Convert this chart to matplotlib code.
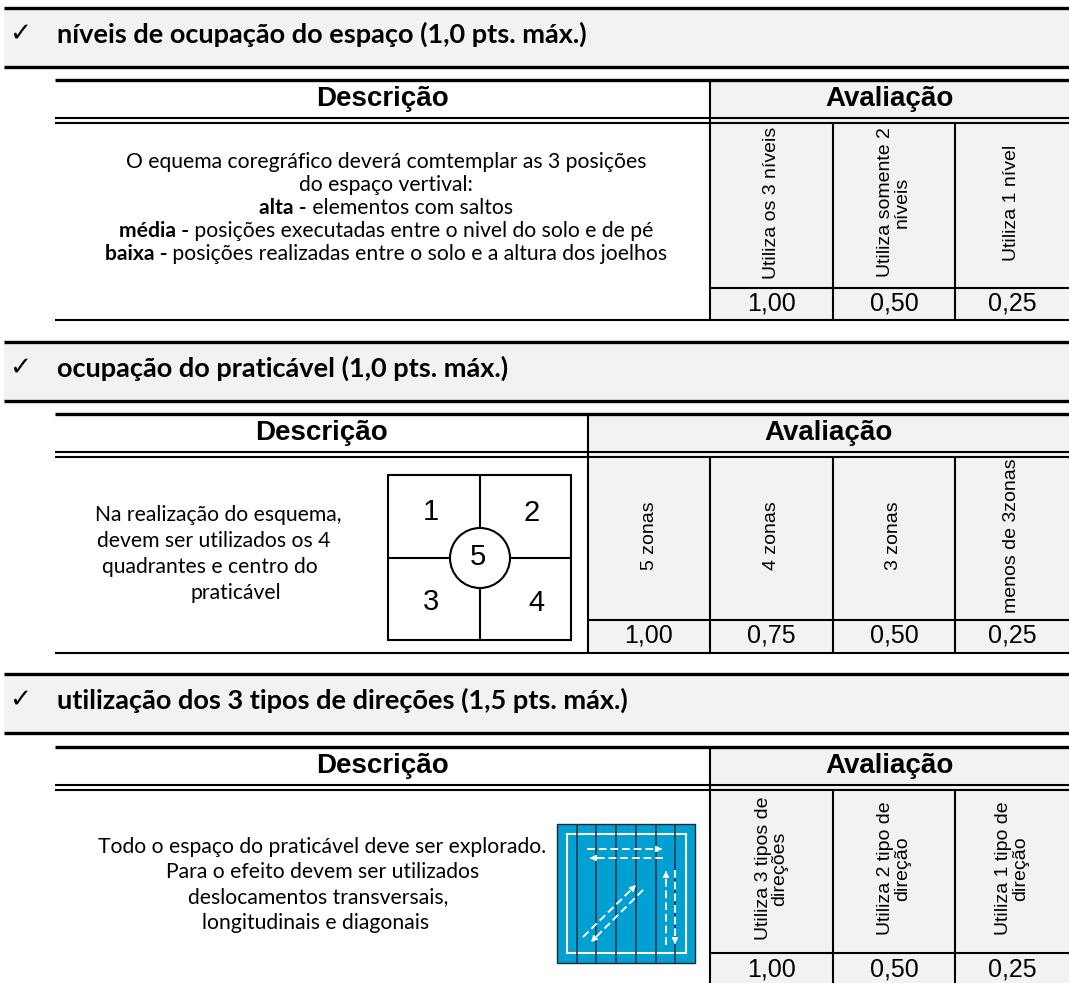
import matplotlib
matplotlib.use('Agg')
import matplotlib.pyplot as plt
from matplotlib.patches import Rectangle, Circle

# dados da tabela
titles = ["níveis de ocupação do espaço (1,0 pts. máx.)",
          "ocupação do praticável (1,0 pts. máx.)",
          "utilização dos 3 tipos de direções (1,5 pts. máx.)"]

desc1 = [[("O equema coregráfico deverá comtemplar as 3 posições", "normal")],
         [("do espaço vertival:", "normal")],
         [("alta -", "bold"), (" elementos com saltos", "normal")],
         [("média -", "bold"), (" posições executadas entre o nivel do solo e de pé", "normal")],
         [("baixa -", "bold"), (" posições realizadas entre o solo e a altura dos joelhos", "normal")]]
desc2 = ["Na realização do esquema,", "devem ser utilizados os 4",
         "quadrantes e centro do", "praticável"]
desc3 = ["Todo o espaço do praticável deve ser explorado.",
         "Para o efeito devem ser utilizados",
         "deslocamentos transversais,", "longitudinais e diagonais"]

criteria1 = ["Utiliza os 3 níveis", "Utiliza somente 2\nníveis", "Utiliza 1 nível"]
scores1 = ["1,00", "0,50", "0,25"]
criteria2 = ["5 zonas", "4 zonas", "3 zonas", "menos de 3zonas"]
scores2 = ["1,00", "0,75", "0,50", "0,25"]
criteria3 = ["Utiliza 3 tipos de\ndireções", "Utiliza 2 tipo de\ndireção", "Utiliza 1 tipo de\ndireção"]
scores3 = ["1,00", "0,50", "0,25"]

zones = ["1", "2", "3", "4", "5"]

W, H = 1069, 983
GRAY = '#f2f2f2'
BODY = 'Lato'
ARIAL = 'Liberation Sans'
BODY_SIZE = 15.2

fig = plt.figure(figsize=(W / 100, H / 100), dpi=100)
ax = fig.add_axes([0, 0, 1, 1])
ax.set_xlim(0, W)
ax.set_ylim(H, 0)
ax.axis('off')
renderer = fig.canvas.get_renderer()


def hl(y, x0, x1, lw=1.5, color='black'):
    ax.plot([x0, x1], [y, y], color=color, lw=lw, solid_capstyle='butt')


def vl(x, y0, y1, lw=1.5, color='black'):
    ax.plot([x, x], [y0, y1], color=color, lw=lw, solid_capstyle='butt')


def section(title, band_top, top, val_top, bottom, edges, criteria, scores):
    # faixa do título
    ax.add_patch(Rectangle((4, band_top), W - 4, 59, fc=GRAY, ec='none'))
    hl(band_top, 4, W, 2.4)
    hl(band_top + 59, 4, W, 2.4)
    ax.text(9, band_top + 26, '✓', family='DejaVu Sans', fontsize=19, va='center')
    ax.text(57, band_top + 26, title, family=BODY, weight='bold', fontsize=19.5, va='center')

    # tabela
    hdr = top + 38
    xd = edges[0]
    ax.add_patch(Rectangle((xd, top), W - xd, bottom - top, fc=GRAY, ec='none'))
    hl(top, 55, W, 2.4)
    hl(hdr, 55, W, 1.5)
    hl(hdr + 5, 55, W, 1.5)
    hl(val_top, xd, W, 1.5)
    hl(bottom, 55, W, 1.5)
    vl(xd, top, bottom)
    for x in edges[1:-1]:
        vl(x, hdr + 5, bottom)
    ax.text((55 + xd) / 2, top + 19, 'Descrição', family=ARIAL, weight='bold',
            fontsize=20, ha='center', va='center')
    ax.text((xd + W) / 2, top + 19, 'Avaliação', family=ARIAL, weight='bold',
            fontsize=20, ha='center', va='center')
    for i, (c, s) in enumerate(zip(criteria, scores)):
        xc = (edges[i] + edges[i + 1]) / 2
        ax.text(xc, (hdr + 5 + val_top) / 2 - 3, c, family=ARIAL, fontsize=14,
                rotation=90, ha='center', va='center', multialignment='center',
                linespacing=0.95)
        ax.text(xc, val_top + 16, s, family=ARIAL, fontsize=18,
                ha='center', va='center')


def mixed_line(xc, y, parts, size=BODY_SIZE):
    objs = []
    for txt, wt in parts:
        t = ax.text(0, y, txt, family=BODY, weight=wt, fontsize=size, va='center')
        objs.append(t)
    widths = [t.get_window_extent(renderer).width for t in objs]
    x = xc - sum(widths) / 2
    for t, w in zip(objs, widths):
        t.set_x(x)
        x += w


section(titles[0], 8, 80, 288, 320, [710, 833, 955, W], criteria1, scores1)
section(titles[1], 342, 414, 620, 653, [588, 710, 833, 955, W], criteria2, scores2)
section(titles[2], 674, 747, 953, 990, [710, 833, 955, W], criteria3, scores3)

# descrição 1
for line, y in zip(desc1, [162, 185, 208, 231, 254]):
    mixed_line(386, y, line)

# descrição 2 e diagrama do praticável
for line, y, xc in zip(desc2, [515, 541, 567, 593], [218, 214, 210, 236]):
    ax.text(xc, y, line, family=BODY, fontsize=BODY_SIZE, ha='center', va='center')
ax.add_patch(Rectangle((388, 475), 183, 165, fc='white', ec='black', lw=1.5))
vl(480, 475, 640, 1.5)
hl(558, 388, 571, 1.5)
ax.add_patch(Circle((480, 558), 30, fc='white', ec='black', lw=1.5, zorder=3))
for z, (x, y) in zip(zones, [(431, 512), (532, 513), (431, 602), (536, 603), (478, 557)]):
    ax.text(x, y, z, family=ARIAL, fontsize=21, ha='center', va='center', zorder=4)

# descrição 3 e imagem das direções
for line, y, xc in zip(desc3, [847, 872, 897, 923], [322, 323, 318, 316]):
    ax.text(xc, y, line, family=BODY, fontsize=BODY_SIZE, ha='center', va='center')
ax.add_patch(Rectangle((557, 824), 138, 139, fc='#00a0d2', ec='#1a2a33', lw=1))
for k in range(1, 7):
    vl(557 + k * 138 / 7, 824, 963, 1.2, '#1a3a4f')
ax.add_patch(Rectangle((567, 834), 119, 119, fc='none', ec='white', lw=1.5))
arrows = [((587, 849), (665, 849)), ((663, 858), (587, 858)),
          ((666, 945), (666, 868)), ((675, 870), (675, 947)),
          ((583, 937), (638, 883)), ((643, 890), (589, 944))]
for (x0, y0), (x1, y1) in arrows:
    dx, dy = x1 - x0, y1 - y0
    n = (dx ** 2 + dy ** 2) ** 0.5
    ax.plot([x0, x1 - 6 * dx / n], [y0, y1 - 6 * dy / n], color='white', lw=1.4,
            ls=(0, (4, 2)))
    ax.annotate('', xy=(x1, y1), xytext=(x1 - 8 * dx / n, y1 - 8 * dy / n),
                arrowprops=dict(arrowstyle='-|>', color='white', lw=1, mutation_scale=9))

fig.savefig('out.png', dpi=100, facecolor='white')
